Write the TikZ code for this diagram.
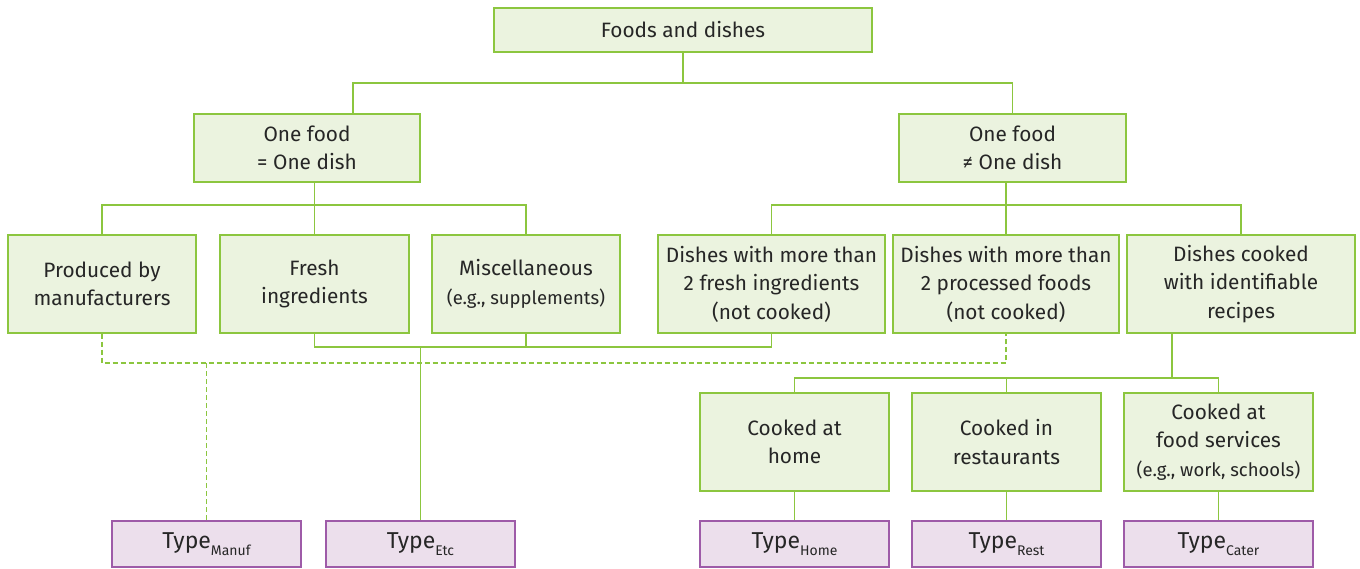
\documentclass[tikz,border=0pt]{standalone}
\usepackage{fontspec}
\setmainfont{Fira Sans}
\definecolor{gline}{HTML}{8CC63F}
\definecolor{gfill}{HTML}{EBF3DF}
\definecolor{pline}{HTML}{9E5BA8}
\definecolor{pfill}{HTML}{ECDFEC}
\definecolor{txt}{HTML}{262626}
\newcommand{\typesub}[1]{Type\raisebox{-0.28em}{\fontsize{14}{14}\selectfont #1}}
\newcommand{\smallnote}[1]{{\fontsize{18.5}{27}\selectfont #1}}
\begin{document}
\begin{tikzpicture}[x=1pt,y=-1pt,
 gbox/.style={draw=gline, fill=gfill, line width=1.4pt, inner sep=0pt, align=center, text=txt, font=\fontsize{20.8}{28.5}\selectfont},
 pbox/.style={draw=pline, fill=pfill, line width=1.4pt, inner sep=0pt, text=txt, font=\fontsize{23}{26}\selectfont, minimum width=189pt, minimum height=46pt},
 conn/.style={draw=gline, line width=1.2pt},
 dconn/.style={conn, dash pattern=on 5pt off 3pt}]
\useasboundingbox (0,0) rectangle (1360,568);
% nodes
\node[gbox, minimum width=378pt, minimum height=44pt] (top) at (683,30) {Foods and dishes};
\node[gbox, minimum width=226pt, minimum height=68pt] (l2a) at (307,148) {One food\\= One dish};
\node[gbox, minimum width=227pt, minimum height=68pt] (l2b) at (1012.5,148) {One food\\≠ One dish};
\node[gbox, minimum width=188pt, minimum height=98pt] (l3a) at (102,284) {Produced by\\manufacturers};
\node[gbox, minimum width=189pt, minimum height=98pt] (l3b) at (314.5,284) {Fresh\\ingredients};
\node[gbox, minimum width=188pt, minimum height=98pt] (l3c) at (526,284) {Miscellaneous\\\smallnote{(e.g., supplements)}};
\node[gbox, minimum width=227pt, minimum height=98pt] (l3d) at (771.5,284) {Dishes with more than\\2 fresh ingredients\\(not cooked)};
\node[gbox, minimum width=226pt, minimum height=98pt] (l3e) at (1006,284) {Dishes with more than\\2 processed foods\\(not cooked)};
\node[gbox, minimum width=228pt, minimum height=98pt] (l3f) at (1241,284) {Dishes cooked\\with identifiable\\recipes};
\node[gbox, minimum width=189pt, minimum height=98pt] (l4a) at (794.5,442) {Cooked at\\home};
\node[gbox, minimum width=189pt, minimum height=98pt] (l4b) at (1006.5,442) {Cooked in\\restaurants};
\node[gbox, minimum width=189pt, minimum height=98pt] (l4c) at (1218.5,442) {Cooked at\\food services\\\smallnote{(e.g., work, schools)}};
\node[pbox] (tman) at (206.5,544) {\typesub{Manuf}};
\node[pbox] (tetc) at (420.5,544) {\typesub{Etc}};
\node[pbox] (thome) at (794.5,544) {\typesub{Home}};
\node[pbox] (trest) at (1006.5,544) {\typesub{Rest}};
\node[pbox] (tcater) at (1218.5,544) {\typesub{Cater}};
% junction coordinates
\coordinate (ja) at (353,83);
\coordinate (ka) at (315,205);
\coordinate (kb) at (1006,205);
\coordinate (m) at (420,347);
\coordinate (d) at (206,363);
\coordinate (r) at (1172,378);
% connectors
\draw[conn] (top.south) -- (top.south |- ja);
\draw[conn] (l2a.north -| ja) |- (l2b.north |- ja) -- (l2b.north);
\draw[conn] (l2a.south -| l3b.north) -- (l3b.north);
\draw[conn] (l3a.north) |- (l3c.north |- ka) -- (l3c.north);
\draw[conn] (l2b.south -| l3e.north) -- (l3e.north);
\draw[conn] (l3d.north) |- (l3f.north |- kb) -- (l3f.north);
\draw[conn] (l3b.south) |- (l3d.south |- m) -- (l3d.south);
\draw[conn] (l3c.south) -- (l3c.south |- m);
\draw[conn] (tetc.north |- m) -- (tetc.north);
\draw[dconn] (l3a.south) |- (l3e.south |- d) -- (l3e.south);
\draw[dconn] (tman.north |- d) -- (tman.north);
\draw[conn] (l3f.south -| r) -- (r);
\draw[conn] (l4a.north) |- (l4c.north |- r) -- (l4c.north);
\draw[conn] (l4b.north) -- (l4b.north |- r);
\draw[conn] (l4a.south) -- (thome.north);
\draw[conn] (l4b.south) -- (trest.north);
\draw[conn] (l4c.south) -- (tcater.north);
\end{tikzpicture}
\end{document}
